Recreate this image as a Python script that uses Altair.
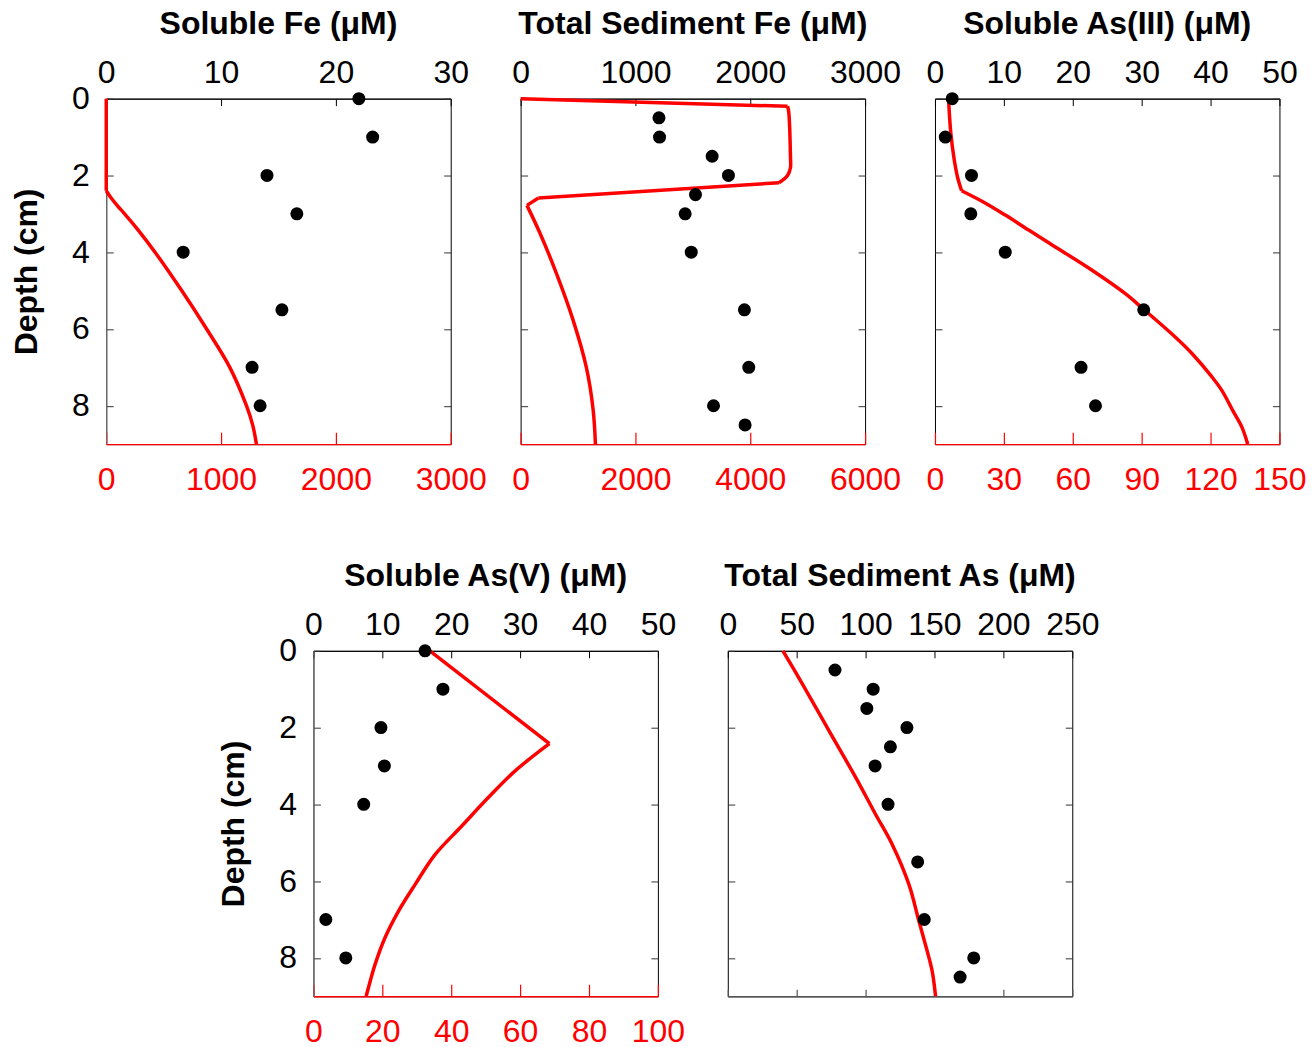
import altair as alt
import pandas as pd

# ---------------- data ----------------
# Soluble Fe
fe_depth = [0, 1, 2, 3, 4, 5.5, 7, 8]
fe_obs = [22.0, 23.2, 14.0, 16.6, 6.7, 15.3, 12.7, 13.4]
fe_mod_depth = [0, 2.4, 2.4, 2.57, 2.8, 3.0, 3.43, 4, 5, 6, 7, 8, 8.5, 9]
fe_mod = [0, 0, 0, 38, 100, 160, 280, 425, 657, 874, 1076, 1221, 1275, 1308]
fe_mod_seg = [0, 0, 1, 1, 1, 1, 1, 1, 1, 1, 1, 1, 1, 1]

# Total sediment Fe
sfe_depth = [0.5, 1, 1.5, 2, 2.5, 3, 4, 5.5, 7, 8, 8.5]
sfe_obs = [1205, 1210, 1668, 1810, 1523, 1433, 1486, 1949, 1987, 1680, 1955]
sfe_mod_depth = [0, 0.2, 0.2, 0.35, 1.5, 1.8, 2.0, 2.19, 2.19, 2.59, 2.59, 2.78,
                 2.78, 3.5, 4.5, 5.75, 7, 8.1, 9]
sfe_mod = [0, 4650, 4650, 4670, 4700, 4700, 4650, 4500, 4500, 310, 310, 110,
           110, 336, 610, 910, 1145, 1263, 1303]
sfe_mod_seg = [0, 0, 1, 1, 1, 1, 1, 1, 2, 2, 3, 3, 4, 4, 4, 4, 4, 4, 4]

# Soluble As(III)
as3_depth = [0, 1, 2, 3, 4, 5.5, 7, 8]
as3_obs = [2.5, 1.5, 5.3, 5.2, 10.2, 30.3, 21.2, 23.3]
as3_mod_depth = [0, 0.9, 1.6, 2.04, 2.4, 2.4, 2.73, 3.04, 3.43, 3.78, 4.47, 5.08, 5.49,
                 6.21, 6.64, 7.25, 7.6, 8.16, 8.55, 9]
as3_mod = [5.9, 6.9, 8.4, 9.8, 11.6, 11.6, 22.2, 30.8, 41, 50.2, 68.4, 82.9, 90.9,
           104.6, 111.9, 120.6, 124.9, 130, 133.6, 136.2]
as3_mod_seg = [0, 0, 0, 0, 0, 1, 1, 1, 1, 1, 1, 1, 1, 1, 1, 1, 1, 1, 1, 1]

# Soluble As(V)
as5_depth = [0, 1, 2, 3, 4, 7, 8]
as5_obs = [16.2, 18.8, 9.8, 10.3, 7.3, 1.8, 4.7]
as5_mod_depth = [0, 2.42, 2.42, 3.14, 3.83, 4.57, 5.31, 6.09, 6.78, 7.47, 8.17, 8.6, 9]
as5_mod = [33.8, 68.5, 68.5, 58.4, 50.7, 43.0, 35.3, 29.5, 24.7, 20.8, 17.9, 16.5, 15.3]
as5_mod_seg = [0, 0, 1, 1, 1, 1, 1, 1, 1, 1, 1, 1, 1]

# Total sediment As
tas_depth = [0.5, 1, 1.5, 2, 2.5, 3, 4, 5.5, 7, 8, 8.5]
tas_obs = [77.8, 105.5, 100.9, 130, 118, 106.9, 116.3, 137.8, 142.6, 178.5, 168.6]
tas_mod_depth = [0, 0.88, 2.1, 3.31, 4.27, 5.05, 6.09, 7.04, 7.82, 8.34, 9]
tas_mod = [40, 54.4, 73.7, 93, 107.4, 119.4, 131.5, 138.7, 144.7, 148.3, 150.8]
tas_mod_seg = [0] * len(tas_mod)

depth_ticks = [0, 2, 4, 6, 8]

FONT = "Liberation Sans"
FS = 32
RED = "#ff0000"
W, H = 345, 346


def panel(title, od, ov, md, mv, ms, top_max, top_vals, bot_max, bot_vals,
          show_y, bot_labels=True, bot_color=RED, bot_tick=12):
    obs = pd.DataFrame({"depth": od, "value": ov})
    mod = pd.DataFrame({"depth": md, "value": mv, "seg": ms,
                        "idx": list(range(len(md)))})
    ysc = alt.Scale(domain=[0, 9], reverse=True, nice=False, zero=False)
    xtop = alt.Scale(domain=[0, top_max], nice=False, zero=False)
    xbot = alt.Scale(domain=[0, bot_max], nice=False, zero=False)

    tick_tr = alt.Chart(obs).mark_point(opacity=0).encode(
        x=alt.X("value:Q", scale=xtop,
                axis=alt.Axis(orient="top", values=top_vals, labels=False, domain=False,
                              ticks=True, tickSize=7, offset=-7, tickColor="black",
                              title=None, grid=False)),
        y=alt.Y("depth:Q", scale=ysc,
                axis=alt.Axis(orient="right", values=depth_ticks, labels=False, domain=False,
                              ticks=True, tickSize=7, offset=-7, tickColor="#333333",
                              title=None, grid=False)),
    )
    tick_bl = alt.Chart(obs).mark_point(opacity=0).encode(
        x=alt.X("value:Q", scale=xbot,
                axis=alt.Axis(orient="bottom", values=bot_vals, labels=False, domain=False,
                              ticks=True, tickSize=bot_tick, offset=-bot_tick,
                              tickColor=bot_color, tickWidth=1.2, title=None, grid=False)),
        y=alt.Y("depth:Q", scale=ysc,
                axis=alt.Axis(orient="left", values=depth_ticks, labels=False, domain=False,
                              ticks=True, tickSize=7, offset=-7, tickColor="#333333",
                              title=None, grid=False)),
    )
    line = alt.Chart(mod).mark_line(color=RED, strokeWidth=3.5,
                                    interpolate="catmull-rom").encode(
        x=alt.X("value:Q", scale=xbot,
                axis=alt.Axis(orient="bottom", values=bot_vals, labels=bot_labels, format="d",
                              labelColor=RED, labelFontSize=FS, labelFont=FONT,
                              labelFlush=False, labelPadding=20, ticks=False,
                              domain=True, domainColor=bot_color, domainWidth=1.5,
                              title=None, grid=False)),
        y=alt.Y("depth:Q", scale=ysc, axis=None),
        detail="seg:N",
        order="idx:Q",
    )
    if show_y:
        yaxis = alt.Axis(orient="left", values=depth_ticks, labels=True, format="d",
                         labelFontSize=FS, labelFont=FONT, labelColor="black",
                         labelPadding=17, ticks=False, domain=True, domainColor="#777777",
                         title="Depth (cm)", titleFontSize=FS, titleFont=FONT,
                         titleFontWeight="bold", titleColor="black", titlePadding=28,
                         grid=False)
    else:
        yaxis = None
    pts = alt.Chart(obs).mark_circle(size=170, color="black", opacity=1).encode(
        x=alt.X("value:Q", scale=xtop,
                axis=alt.Axis(orient="top", values=top_vals, format="d",
                              labelFontSize=FS, labelFont=FONT, labelColor="black",
                              labelFlush=False, labelPadding=9, ticks=False,
                              domain=True, domainColor="black", title=None, grid=False)),
        y=alt.Y("depth:Q", scale=ysc, axis=yaxis),
    )
    return alt.layer(tick_tr, tick_bl, line, pts).resolve_scale(
        x="independent", y="independent"
    ).properties(
        width=W, height=H,
        title=alt.TitleParams(title, fontSize=FS, font=FONT, fontWeight="bold",
                              color="black", offset=16, anchor="middle"),
    )


p1 = panel("Soluble Fe (\u03bcM)", fe_depth, fe_obs, fe_mod_depth, fe_mod, fe_mod_seg,
           30, [0, 10, 20, 30], 3000, [0, 1000, 2000, 3000], True)
p2 = panel("Total Sediment Fe (\u03bcM)", sfe_depth, sfe_obs, sfe_mod_depth, sfe_mod, sfe_mod_seg,
           3000, [0, 1000, 2000, 3000], 6000, [0, 2000, 4000, 6000], False)
p3 = panel("Soluble As(III) (\u03bcM)", as3_depth, as3_obs, as3_mod_depth, as3_mod, as3_mod_seg,
           50, [0, 10, 20, 30, 40, 50], 150, [0, 30, 60, 90, 120, 150], False)
p4 = panel("Soluble As(V) (\u03bcM)", as5_depth, as5_obs, as5_mod_depth, as5_mod, as5_mod_seg,
           50, [0, 10, 20, 30, 40, 50], 100, [0, 20, 40, 60, 80, 100], True)
p5 = panel("Total Sediment As (\u03bcM)", tas_depth, tas_obs, tas_mod_depth, tas_mod, tas_mod_seg,
           250, [0, 50, 100, 150, 200, 250], 250, [0, 50, 100, 150, 200, 250], False,
           bot_labels=False, bot_color="#555555", bot_tick=7)

top = alt.hconcat(p1, p2, p3, spacing=70, bounds="flush")
bottom = alt.hconcat(p4, p5, spacing=70, bounds="flush")

chart = alt.vconcat(top, bottom, spacing=63, center=True).properties(
    padding={"left": 10, "top": 6, "right": 5, "bottom": 5},
    background="white",
).configure_view(stroke="black", strokeWidth=1).configure_axis(
    labelFont=FONT, titleFont=FONT
)

chart.save("out.html", embed_options={"renderer": "svg", "actions": False})
